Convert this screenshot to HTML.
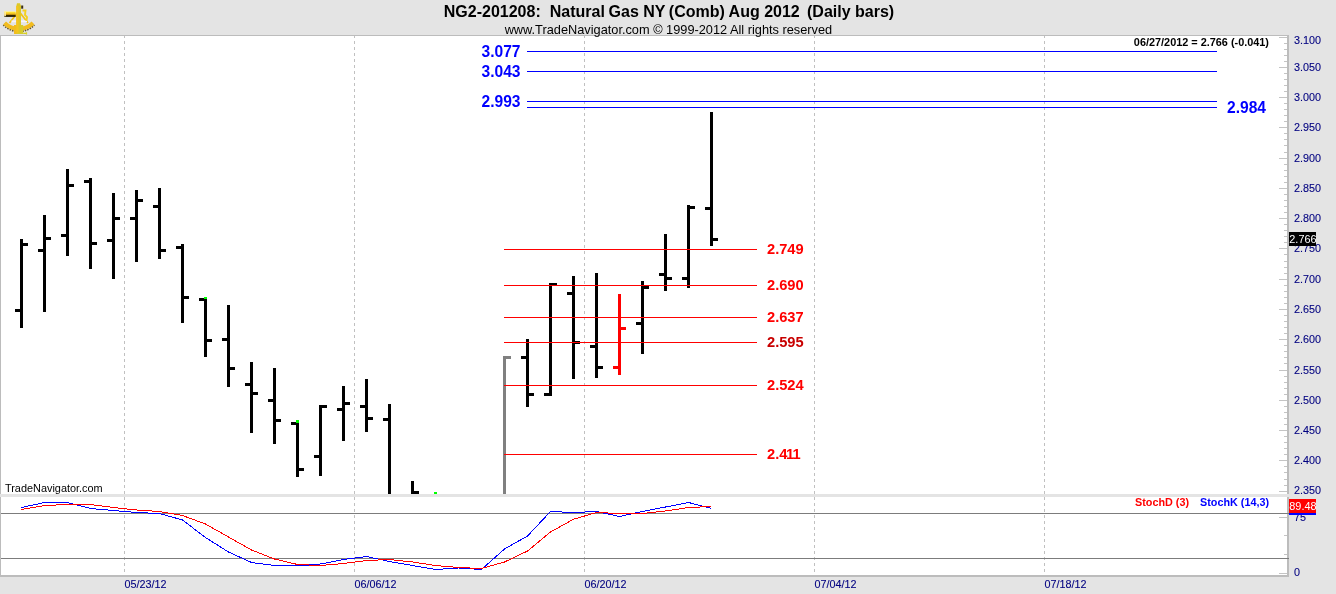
<!DOCTYPE html>
<html><head><meta charset="utf-8"><title>NG2-201208 Natural Gas NY (Comb) Aug 2012 Daily bars</title>
<style>html,body{margin:0;padding:0;background:#e4e4e4;overflow:hidden}svg{display:block}text{font-family:"Liberation Sans",Arial,sans-serif}</style>
</head><body>
<svg width="1336" height="594" viewBox="0 0 1336 594">
<rect x="0" y="0" width="1336" height="594" fill="#e4e4e4"/>
<g shape-rendering="crispEdges">
<rect x="0" y="35" width="1289" height="542" fill="#bcbcbc"/>
<rect x="1" y="36" width="1286" height="539" fill="#ffffff"/>
<rect x="0" y="494" width="1289" height="3" fill="#e4e4e4"/>
<line x1="124.5" y1="35" x2="124.5" y2="575" stroke="#c0c0c0" stroke-width="1" stroke-dasharray="3 3"/>
<line x1="354.5" y1="35" x2="354.5" y2="575" stroke="#c0c0c0" stroke-width="1" stroke-dasharray="3 3"/>
<line x1="584.5" y1="35" x2="584.5" y2="575" stroke="#c0c0c0" stroke-width="1" stroke-dasharray="3 3"/>
<line x1="814.5" y1="35" x2="814.5" y2="575" stroke="#c0c0c0" stroke-width="1" stroke-dasharray="3 3"/>
<line x1="1044.5" y1="35" x2="1044.5" y2="575" stroke="#c0c0c0" stroke-width="1" stroke-dasharray="3 3"/>
<rect x="0" y="35" width="1289" height="1" fill="#bcbcbc"/>
<rect x="1" y="513" width="1288" height="1" fill="#7c7c7c"/>
<rect x="1" y="558" width="1288" height="1" fill="#7c7c7c"/>
<rect x="1279" y="37" width="8" height="1" fill="#c4c4c4"/>
<rect x="1284" y="43" width="3" height="1" fill="#c4c4c4"/>
<rect x="1284" y="49" width="3" height="1" fill="#c4c4c4"/>
<rect x="1284" y="55" width="3" height="1" fill="#c4c4c4"/>
<rect x="1284" y="61" width="3" height="1" fill="#c4c4c4"/>
<rect x="1279" y="67" width="8" height="1" fill="#c4c4c4"/>
<rect x="1284" y="73" width="3" height="1" fill="#c4c4c4"/>
<rect x="1284" y="79" width="3" height="1" fill="#c4c4c4"/>
<rect x="1284" y="85" width="3" height="1" fill="#c4c4c4"/>
<rect x="1284" y="91" width="3" height="1" fill="#c4c4c4"/>
<rect x="1279" y="97" width="8" height="1" fill="#c4c4c4"/>
<rect x="1284" y="103" width="3" height="1" fill="#c4c4c4"/>
<rect x="1284" y="109" width="3" height="1" fill="#c4c4c4"/>
<rect x="1284" y="115" width="3" height="1" fill="#c4c4c4"/>
<rect x="1284" y="121" width="3" height="1" fill="#c4c4c4"/>
<rect x="1279" y="127" width="8" height="1" fill="#c4c4c4"/>
<rect x="1284" y="133" width="3" height="1" fill="#c4c4c4"/>
<rect x="1284" y="139" width="3" height="1" fill="#c4c4c4"/>
<rect x="1284" y="145" width="3" height="1" fill="#c4c4c4"/>
<rect x="1284" y="152" width="3" height="1" fill="#c4c4c4"/>
<rect x="1279" y="158" width="8" height="1" fill="#c4c4c4"/>
<rect x="1284" y="164" width="3" height="1" fill="#c4c4c4"/>
<rect x="1284" y="170" width="3" height="1" fill="#c4c4c4"/>
<rect x="1284" y="176" width="3" height="1" fill="#c4c4c4"/>
<rect x="1284" y="182" width="3" height="1" fill="#c4c4c4"/>
<rect x="1279" y="188" width="8" height="1" fill="#c4c4c4"/>
<rect x="1284" y="194" width="3" height="1" fill="#c4c4c4"/>
<rect x="1284" y="200" width="3" height="1" fill="#c4c4c4"/>
<rect x="1284" y="206" width="3" height="1" fill="#c4c4c4"/>
<rect x="1284" y="212" width="3" height="1" fill="#c4c4c4"/>
<rect x="1279" y="218" width="8" height="1" fill="#c4c4c4"/>
<rect x="1284" y="224" width="3" height="1" fill="#c4c4c4"/>
<rect x="1284" y="230" width="3" height="1" fill="#c4c4c4"/>
<rect x="1284" y="236" width="3" height="1" fill="#c4c4c4"/>
<rect x="1284" y="242" width="3" height="1" fill="#c4c4c4"/>
<rect x="1279" y="248" width="8" height="1" fill="#c4c4c4"/>
<rect x="1284" y="254" width="3" height="1" fill="#c4c4c4"/>
<rect x="1284" y="261" width="3" height="1" fill="#c4c4c4"/>
<rect x="1284" y="267" width="3" height="1" fill="#c4c4c4"/>
<rect x="1284" y="273" width="3" height="1" fill="#c4c4c4"/>
<rect x="1279" y="279" width="8" height="1" fill="#c4c4c4"/>
<rect x="1284" y="285" width="3" height="1" fill="#c4c4c4"/>
<rect x="1284" y="291" width="3" height="1" fill="#c4c4c4"/>
<rect x="1284" y="297" width="3" height="1" fill="#c4c4c4"/>
<rect x="1284" y="303" width="3" height="1" fill="#c4c4c4"/>
<rect x="1279" y="309" width="8" height="1" fill="#c4c4c4"/>
<rect x="1284" y="315" width="3" height="1" fill="#c4c4c4"/>
<rect x="1284" y="321" width="3" height="1" fill="#c4c4c4"/>
<rect x="1284" y="327" width="3" height="1" fill="#c4c4c4"/>
<rect x="1284" y="333" width="3" height="1" fill="#c4c4c4"/>
<rect x="1279" y="339" width="8" height="1" fill="#c4c4c4"/>
<rect x="1284" y="345" width="3" height="1" fill="#c4c4c4"/>
<rect x="1284" y="351" width="3" height="1" fill="#c4c4c4"/>
<rect x="1284" y="357" width="3" height="1" fill="#c4c4c4"/>
<rect x="1284" y="363" width="3" height="1" fill="#c4c4c4"/>
<rect x="1279" y="370" width="8" height="1" fill="#c4c4c4"/>
<rect x="1284" y="376" width="3" height="1" fill="#c4c4c4"/>
<rect x="1284" y="382" width="3" height="1" fill="#c4c4c4"/>
<rect x="1284" y="388" width="3" height="1" fill="#c4c4c4"/>
<rect x="1284" y="394" width="3" height="1" fill="#c4c4c4"/>
<rect x="1279" y="400" width="8" height="1" fill="#c4c4c4"/>
<rect x="1284" y="406" width="3" height="1" fill="#c4c4c4"/>
<rect x="1284" y="412" width="3" height="1" fill="#c4c4c4"/>
<rect x="1284" y="418" width="3" height="1" fill="#c4c4c4"/>
<rect x="1284" y="424" width="3" height="1" fill="#c4c4c4"/>
<rect x="1279" y="430" width="8" height="1" fill="#c4c4c4"/>
<rect x="1284" y="436" width="3" height="1" fill="#c4c4c4"/>
<rect x="1284" y="442" width="3" height="1" fill="#c4c4c4"/>
<rect x="1284" y="448" width="3" height="1" fill="#c4c4c4"/>
<rect x="1284" y="454" width="3" height="1" fill="#c4c4c4"/>
<rect x="1279" y="460" width="8" height="1" fill="#c4c4c4"/>
<rect x="1284" y="466" width="3" height="1" fill="#c4c4c4"/>
<rect x="1284" y="472" width="3" height="1" fill="#c4c4c4"/>
<rect x="1284" y="479" width="3" height="1" fill="#c4c4c4"/>
<rect x="1284" y="485" width="3" height="1" fill="#c4c4c4"/>
<rect x="1279" y="491" width="8" height="1" fill="#c4c4c4"/>
<rect x="1279" y="517" width="8" height="1" fill="#c4c4c4"/>
<rect x="1284" y="535" width="3" height="1" fill="#c4c4c4"/>
<rect x="1284" y="554" width="3" height="1" fill="#c4c4c4"/>
<rect x="1279" y="573" width="8" height="1" fill="#c4c4c4"/>
<g fill="#000000">
<rect x="20" y="239" width="3" height="89"/>
<rect x="15" y="309" width="5" height="3"/>
<rect x="23" y="243" width="5" height="3"/>
</g>
<g fill="#000000">
<rect x="43" y="215" width="3" height="97"/>
<rect x="38" y="249" width="5" height="3"/>
<rect x="46" y="237" width="5" height="3"/>
</g>
<g fill="#000000">
<rect x="66" y="169" width="3" height="87"/>
<rect x="61" y="234" width="5" height="3"/>
<rect x="69" y="184" width="5" height="3"/>
</g>
<g fill="#000000">
<rect x="89" y="178" width="3" height="91"/>
<rect x="84" y="180" width="5" height="3"/>
<rect x="92" y="242" width="5" height="3"/>
</g>
<g fill="#000000">
<rect x="112" y="193" width="3" height="86"/>
<rect x="107" y="239" width="5" height="3"/>
<rect x="115" y="217" width="5" height="3"/>
</g>
<g fill="#000000">
<rect x="135" y="190" width="3" height="72"/>
<rect x="130" y="217" width="5" height="3"/>
<rect x="138" y="199" width="5" height="3"/>
</g>
<g fill="#000000">
<rect x="158" y="188" width="3" height="71"/>
<rect x="153" y="205" width="5" height="3"/>
<rect x="161" y="249" width="5" height="3"/>
</g>
<g fill="#000000">
<rect x="181" y="244" width="3" height="79"/>
<rect x="176" y="246" width="5" height="3"/>
<rect x="184" y="296" width="5" height="3"/>
</g>
<g fill="#000000">
<rect x="204" y="297" width="3" height="60"/>
<rect x="199" y="298" width="5" height="3"/>
<rect x="207" y="339" width="5" height="3"/>
</g>
<g fill="#000000">
<rect x="227" y="305" width="3" height="82"/>
<rect x="222" y="338" width="5" height="3"/>
<rect x="230" y="367" width="5" height="3"/>
</g>
<g fill="#000000">
<rect x="250" y="362" width="3" height="71"/>
<rect x="245" y="383" width="5" height="3"/>
<rect x="253" y="392" width="5" height="3"/>
</g>
<g fill="#000000">
<rect x="273" y="368" width="3" height="76"/>
<rect x="268" y="399" width="5" height="3"/>
<rect x="276" y="419" width="5" height="3"/>
</g>
<g fill="#000000">
<rect x="296" y="420" width="3" height="57"/>
<rect x="291" y="422" width="5" height="3"/>
<rect x="299" y="468" width="5" height="3"/>
</g>
<g fill="#000000">
<rect x="319" y="405" width="3" height="71"/>
<rect x="314" y="455" width="5" height="3"/>
<rect x="322" y="405" width="5" height="3"/>
</g>
<g fill="#000000">
<rect x="342" y="386" width="3" height="55"/>
<rect x="337" y="408" width="5" height="3"/>
<rect x="345" y="402" width="5" height="3"/>
</g>
<g fill="#000000">
<rect x="365" y="379" width="3" height="53"/>
<rect x="360" y="405" width="5" height="3"/>
<rect x="368" y="417" width="5" height="3"/>
</g>
<g fill="#000000">
<rect x="388" y="404" width="3" height="90"/>
<rect x="383" y="418" width="5" height="3"/>
</g>
<g fill="#000000">
<rect x="411" y="481" width="3" height="13"/>
<rect x="414" y="491" width="5" height="3"/>
</g>
<g fill="#808080">
<rect x="503" y="356" width="3" height="138"/>
<rect x="506" y="356" width="5" height="3"/>
</g>
<g fill="#000000">
<rect x="526" y="339" width="3" height="68"/>
<rect x="521" y="356" width="5" height="3"/>
<rect x="529" y="393" width="5" height="3"/>
</g>
<g fill="#000000">
<rect x="549" y="283" width="3" height="113"/>
<rect x="544" y="393" width="5" height="3"/>
<rect x="552" y="283" width="5" height="3"/>
</g>
<g fill="#000000">
<rect x="572" y="276" width="3" height="103"/>
<rect x="567" y="292" width="5" height="3"/>
<rect x="575" y="341" width="5" height="3"/>
</g>
<g fill="#000000">
<rect x="595" y="273" width="3" height="105"/>
<rect x="590" y="345" width="5" height="3"/>
<rect x="598" y="366" width="5" height="3"/>
</g>
<g fill="#ff0000">
<rect x="618" y="294" width="3" height="81"/>
<rect x="613" y="366" width="5" height="3"/>
<rect x="621" y="327" width="5" height="3"/>
</g>
<g fill="#000000">
<rect x="641" y="281" width="3" height="73"/>
<rect x="636" y="322" width="5" height="3"/>
<rect x="644" y="286" width="5" height="3"/>
</g>
<g fill="#000000">
<rect x="664" y="234" width="3" height="57"/>
<rect x="659" y="273" width="5" height="3"/>
<rect x="667" y="277" width="5" height="3"/>
</g>
<g fill="#000000">
<rect x="687" y="205" width="3" height="83"/>
<rect x="682" y="277" width="5" height="3"/>
<rect x="690" y="206" width="5" height="3"/>
</g>
<g fill="#000000">
<rect x="710" y="112" width="3" height="134"/>
<rect x="705" y="207" width="5" height="3"/>
<rect x="713" y="238" width="5" height="3"/>
</g>
<rect x="204" y="297" width="3" height="2" fill="#00ff00"/>
<rect x="296" y="420" width="3" height="3" fill="#00ff00"/>
<rect x="434" y="492" width="3" height="2" fill="#00ff00"/>
<rect x="527" y="51" width="690" height="1" fill="#0000ff"/>
<rect x="527" y="71" width="690" height="1" fill="#0000ff"/>
<rect x="527" y="101" width="690" height="1" fill="#0000ff"/>
<rect x="527" y="107" width="690" height="1" fill="#0000ff"/>
<rect x="504" y="249" width="253" height="1" fill="#ff0000"/>
<rect x="504" y="285" width="253" height="1" fill="#ff0000"/>
<rect x="504" y="317" width="253" height="1" fill="#ff0000"/>
<rect x="504" y="342" width="253" height="1" fill="#ff0000"/>
<rect x="504" y="385" width="253" height="1" fill="#ff0000"/>
<rect x="504" y="454" width="253" height="1" fill="#ff0000"/>
</g>
<polyline points="21.5,507.5 44.5,502.5 67.5,502.5 90.5,508.5 113.5,510.5 136.5,512.5 159.5,513.5 182.5,520 205.5,537.5 228.5,552 251.5,562.5 274.5,565.5 297.5,566 320.5,564 343.5,559.5 366.5,556.5 389.5,561.5 412.5,565.5 435.5,569.5 458.5,568 481.5,569.5 504.5,549 527.5,536 550.5,511.5 573.5,512.5 596.5,511.5 619.5,516.5 642.5,511.5 665.5,507 688.5,502.5 711.5,508.3" fill="none" stroke="#0000ff" stroke-width="1" shape-rendering="crispEdges"/>
<polyline points="21.5,509.5 44.5,505.5 67.5,504.5 90.5,504.5 113.5,507.5 136.5,510 159.5,511.5 182.5,515.5 205.5,524 228.5,537 251.5,550 274.5,559 297.5,564.5 320.5,565.5 343.5,563.5 366.5,560.5 389.5,559.5 412.5,562 435.5,565.5 458.5,567.5 481.5,568.5 504.5,562 527.5,551 550.5,532 573.5,519.25 596.5,512.5 619.5,513.5 642.5,513.5 665.5,511 688.5,507.5 711.5,506.5" fill="none" stroke="#ff0000" stroke-width="1" shape-rendering="crispEdges"/>
<g shape-rendering="crispEdges">
<rect x="1289" y="232" width="27" height="14" fill="#000000"/>
<rect x="1289" y="499" width="27" height="14" fill="#ff0000"/>
<rect x="1289" y="513" width="27" height="2" fill="#0000ff"/>
</g>
<text id="title" y="17" font-size="16" font-weight="bold" fill="#000"><tspan x="443.8">NG2-201208: </tspan><tspan x="549.8">Natural </tspan><tspan x="608.6">Gas </tspan><tspan x="643.3">NY </tspan><tspan x="668.8">(Comb) </tspan><tspan x="728.6">Aug 2012 </tspan><tspan x="807">(Daily bars)</tspan></text>
<text id="sub" x="668.4" y="33.5" font-size="12.77" text-anchor="middle" fill="#000">www.TradeNavigator.com © 1999-2012 All rights reserved</text>
<text id="info" x="1269" y="45.8" font-size="10.88" font-weight="bold" text-anchor="end" fill="#000">06/27/2012 = 2.766 (-0.041)</text>
<text x="481.5" y="57" font-size="15.6" font-weight="bold" fill="#0000ff">3.077</text>
<text x="481.5" y="77" font-size="15.6" font-weight="bold" fill="#0000ff">3.043</text>
<text x="481.5" y="107" font-size="15.6" font-weight="bold" fill="#0000ff">2.993</text>
<text x="1227" y="113" font-size="15.6" font-weight="bold" fill="#0000ff">2.984</text>
<text x="767" y="254" font-size="14.67" font-weight="bold" fill="#ff0000">2.749</text>
<text x="767" y="290" font-size="14.67" font-weight="bold" fill="#ff0000">2.690</text>
<text x="767" y="322" font-size="14.67" font-weight="bold" fill="#ff0000">2.637</text>
<text x="767" y="347" font-size="14.67" font-weight="bold" fill="#c80000">2.595</text>
<text x="767" y="390" font-size="14.67" font-weight="bold" fill="#ff0000">2.524</text>
<text x="767" y="459" font-size="14.67" font-weight="bold" fill="#ff0000">2.4<tspan dx="-1.3">1</tspan><tspan dx="-0.9">1</tspan></text>
<text x="1294" y="44" font-size="10.8" fill="#000080" stroke="#000080" stroke-width="0.1">3.100</text>
<text x="1294" y="71" font-size="10.8" fill="#000080" stroke="#000080" stroke-width="0.1">3.050</text>
<text x="1294" y="101" font-size="10.8" fill="#000080" stroke="#000080" stroke-width="0.1">3.000</text>
<text x="1294" y="131" font-size="10.8" fill="#000080" stroke="#000080" stroke-width="0.1">2.950</text>
<text x="1294" y="162" font-size="10.8" fill="#000080" stroke="#000080" stroke-width="0.1">2.900</text>
<text x="1294" y="192" font-size="10.8" fill="#000080" stroke="#000080" stroke-width="0.1">2.850</text>
<text x="1294" y="222" font-size="10.8" fill="#000080" stroke="#000080" stroke-width="0.1">2.800</text>
<text x="1294" y="252" font-size="10.8" fill="#000080" stroke="#000080" stroke-width="0.1">2.750</text>
<text x="1294" y="283" font-size="10.8" fill="#000080" stroke="#000080" stroke-width="0.1">2.700</text>
<text x="1294" y="313" font-size="10.8" fill="#000080" stroke="#000080" stroke-width="0.1">2.650</text>
<text x="1294" y="343" font-size="10.8" fill="#000080" stroke="#000080" stroke-width="0.1">2.600</text>
<text x="1294" y="374" font-size="10.8" fill="#000080" stroke="#000080" stroke-width="0.1">2.550</text>
<text x="1294" y="404" font-size="10.8" fill="#000080" stroke="#000080" stroke-width="0.1">2.500</text>
<text x="1294" y="434" font-size="10.8" fill="#000080" stroke="#000080" stroke-width="0.1">2.450</text>
<text x="1294" y="464" font-size="10.8" fill="#000080" stroke="#000080" stroke-width="0.1">2.400</text>
<text x="1294" y="494" font-size="10.8" fill="#000080" stroke="#000080" stroke-width="0.1">2.350</text>
<text x="1294" y="521" font-size="10.8" fill="#000080" stroke="#000080" stroke-width="0.1">75</text>
<text x="1294" y="576" font-size="10.8" fill="#000080" stroke="#000080" stroke-width="0.1">0</text>
<g shape-rendering="crispEdges">
<rect x="1289" y="232" width="27" height="14" fill="#000000"/>
<rect x="1289" y="499" width="27" height="14" fill="#ff0000"/>
<rect x="1289" y="513" width="27" height="2" fill="#0000ff"/>
</g>
<text x="1289.3" y="242.8" font-size="10.9" fill="#ffffff">2.766</text>
<text x="1289.3" y="509.8" font-size="10.9" fill="#ffffff">89.48</text>
<text x="124.5" y="588" font-size="10.8" fill="#000080" stroke="#000080" stroke-width="0.1">05/23/12</text>
<text x="354.5" y="588" font-size="10.8" fill="#000080" stroke="#000080" stroke-width="0.1">06/06/12</text>
<text x="584.5" y="588" font-size="10.8" fill="#000080" stroke="#000080" stroke-width="0.1">06/20/12</text>
<text x="814.5" y="588" font-size="10.8" fill="#000080" stroke="#000080" stroke-width="0.1">07/04/12</text>
<text x="1044.5" y="588" font-size="10.8" fill="#000080" stroke="#000080" stroke-width="0.1">07/18/12</text>
<text x="5" y="492" font-size="10.9" fill="#000000">TradeNavigator.com</text>
<text x="1135" y="506" font-size="10.8" font-weight="bold" fill="#ff0000">StochD (3)</text>
<text x="1200" y="506" font-size="10.8" font-weight="bold" fill="#0000ff">StochK (14,3)</text>
<defs><linearGradient id="tg" x1="0" y1="0" x2="0" y2="1"><stop offset="0" stop-color="#fff8b0"/><stop offset="0.2" stop-color="#ffe030"/><stop offset="0.55" stop-color="#e8b018"/><stop offset="0.68" stop-color="#3a2c04"/><stop offset="1" stop-color="#1c1400"/></linearGradient></defs>
<g id="icon">
<path d="M4.4 24 A20.1 20.1 0 0 0 33.4 24" stroke="#4a3a08" stroke-width="4.4" fill="none" opacity=".85" stroke-dasharray="1.4 1"/>
<path d="M4.6 23 A20.1 20.1 0 0 0 33 23" stroke="#f2bc1e" stroke-width="4" fill="none"/>
<path d="M18 12 L9.5 23 M19.5 12 L28 23" stroke="#f2c414" stroke-width="1.7" fill="none"/>
<path d="M11.5 21.3 H27" stroke="#f6f4ff" stroke-width="1.8"/>
<path d="M22.5 10.5 L25.5 10.5 L25 15 L27 17 L26.5 21" stroke="#f4d020" stroke-width="1.9" fill="none"/>
<rect x="4.3" y="11.2" width="11.4" height="5.7" fill="url(#tg)"/>
<rect x="4.3" y="11.6" width="1.6" height="4.6" fill="#ffeea0"/>
<rect x="14" y="25" width="9.2" height="9" fill="#d4cc30"/>
<rect x="14" y="25" width="2.6" height="9" fill="#f2bc1e"/>
<path d="M17 3.2 H20 L21 6 V33 H16.3 V6 Z" fill="#dcc828"/>
<rect x="16.3" y="6" width="2.2" height="27" fill="#f6c41c"/>
<rect x="21.2" y="5.5" width="2" height="3.2" fill="#3c3010"/>
<path d="M23.2 33.3 H26 M26.5 32.2 V34.6" stroke="#d8d020" stroke-width="1.2"/>
</g>
</svg></body></html>
